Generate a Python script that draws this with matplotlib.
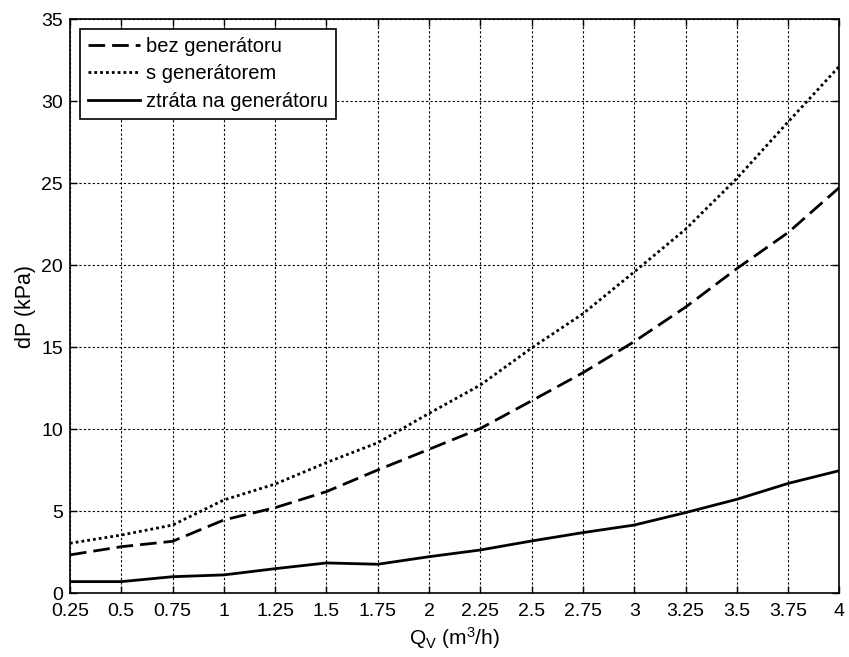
import matplotlib
matplotlib.use("Agg")
import matplotlib.pyplot as plt

plt.rcParams['font.family'] = ['Liberation Sans', 'DejaVu Sans']
plt.rcParams['mathtext.fontset'] = 'custom'
plt.rcParams['mathtext.rm'] = 'Liberation Sans'
plt.rcParams['mathtext.it'] = 'Liberation Sans:italic'

q = [0.25, 0.5, 0.75, 1.0, 1.25, 1.5, 1.75, 2.0, 2.25, 2.5, 2.75, 3.0, 3.25, 3.5, 3.75, 4.0]
bez = [2.34, 2.84, 3.17, 4.47, 5.22, 6.2, 7.52, 8.78, 10.05, 11.74, 13.45, 15.35, 17.45, 19.8, 22.0, 24.75]
s_gen = [3.05, 3.55, 4.16, 5.69, 6.66, 7.97, 9.18, 10.97, 12.7, 14.96, 17.05, 19.6, 22.2, 25.3, 28.75, 32.15]
ztrata = [0.71, 0.71, 1.01, 1.12, 1.5, 1.85, 1.77, 2.23, 2.64, 3.19, 3.7, 4.16, 4.92, 5.73, 6.7, 7.48]
xticks = q
xticklabels = ['0.25', '0.5', '0.75', '1', '1.25', '1.5', '1.75', '2', '2.25', '2.5', '2.75', '3', '3.25', '3.5', '3.75', '4']
yticks = [0, 5, 10, 15, 20, 25, 30, 35]

fig = plt.figure(figsize=(8.49, 6.57), dpi=100)
ax = fig.add_axes([0.0824, 0.097, 0.9064, 0.8736])

ax.plot(q, bez, color='black', linestyle=(0, (6, 2.5)), linewidth=2, label='bez generátoru')
ax.plot(q, s_gen, color='black', linestyle=(0, (1, 1.1)), linewidth=2, label='s generátorem')
ax.plot(q, ztrata, color='black', linestyle='-', linewidth=2, label='ztráta na generátoru')

ax.set_xlim(0.25, 4)
ax.set_ylim(0, 35)
ax.set_xticks(xticks)
ax.set_xticklabels(xticklabels)
ax.set_yticks(yticks)
ax.tick_params(direction='in', top=True, right=True, labelsize=14, length=5, width=1)
ax.tick_params(axis='x', pad=7)
ax.tick_params(axis='y', pad=5)
ax.grid(True, color='black', linestyle=(0, (2, 2)), linewidth=0.8)
for sp in ax.spines.values():
    sp.set_linewidth(1.2)

ax.set_xlabel(r'Q$_\mathrm{V}$ (m$^3$/h)', fontsize=15, labelpad=4)
ax.set_ylabel('dP (kPa)', fontsize=15.5, labelpad=4)

leg = ax.legend(loc='upper left', fontsize=14.5, frameon=True, fancybox=False,
                edgecolor='black', framealpha=1, handlelength=2.6, borderaxespad=0.5,
                handletextpad=0.3, labelspacing=0.42, borderpad=0.38)
leg.get_frame().set_linewidth(1.2)

fig.savefig('out.png', dpi=100)
